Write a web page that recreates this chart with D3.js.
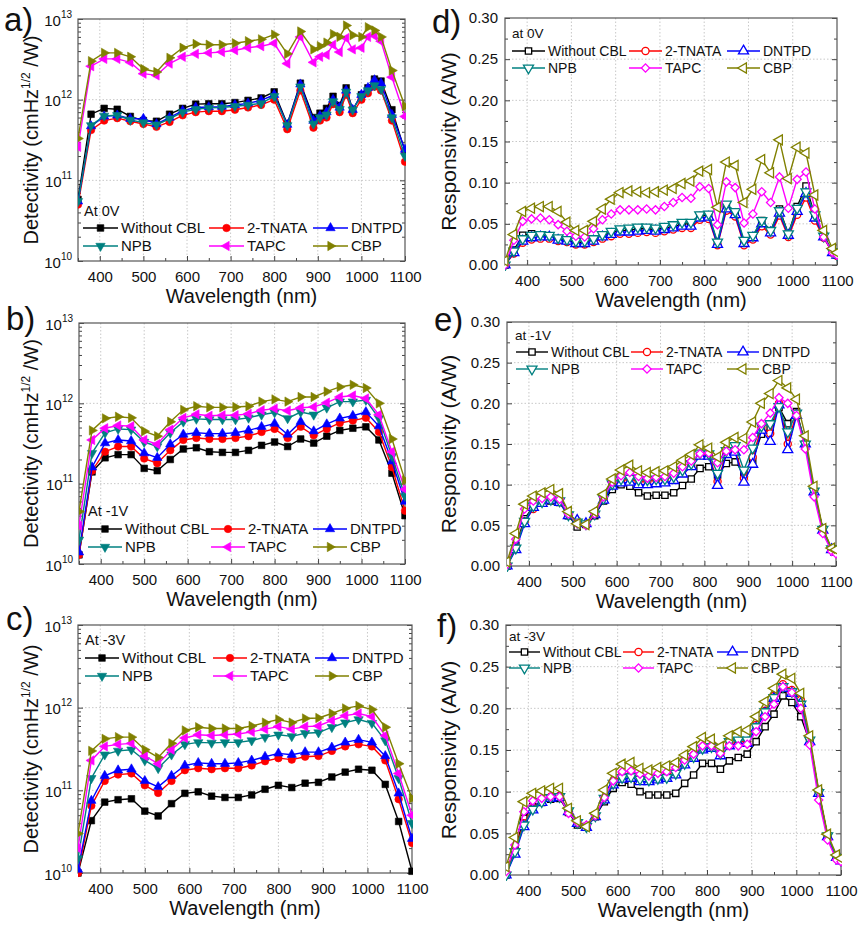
<!DOCTYPE html>
<html>
<head>
<meta charset="utf-8">
<script src="https://cdn.jsdelivr.net/npm/d3@7"></script>
<style>
body { margin: 0; background: #fff; }
svg text { font-family: Arial, "Liberation Sans", sans-serif; fill: #111; }
</style>
</head>
<body>
<svg id="chart" width="862" height="927"></svg>
<script>
let names = ["Without CBL", "2-TNATA", "DNTPD", "NPB", "TAPC", "CBP"]
let colors = ["#000000", "#ff0000", "#0000ff", "#008080", "#ff00ff", "#808000"]

// wavelengths (nm)
let wlA = [350,380,410,440,470, 500,530,560,590,620, 650,680,710,740,770, 800,830,860,890,905, 920,935,950,965,980, 1000,1015,1030,1045,1070, 1100]
let wlDet = [350,380,410,440,470, 500,530,560,590,620, 650,680,710,740,770, 800,830,860,890,920, 950,980,1010,1040,1070,1100]
let wlResp = [350,370,390,410,430,450,470,490,510,530, 550,570,590,610,630,650,670,690,710,730,
              750,770,790,810,830,850,870,890,910,930, 950,970,990,1010,1030,1050,1070,1090,1100]

let xTicks = [400,500,600,700,800,900,1000,1100]
let xMinor = [350,450,550,650,750,850,950,1050]
let detTicks = [1e10,1e11,1e12,1e13]
let respTicks = [0,0.05,0.10,0.15,0.20,0.25,0.30]

// detectivity, units of 1e11 Jones
// a) at 0V
let a_noCBL = [0.58,6.6,7.8,7.6,6.2, 5.5,5.4,6.6,7.8,8.8, 8.9,8.9,9.2,9.8,10.5, 12.5,5.0,16,6.0,6.8, 7.8,11,8.5,14,7.5, 11.5,14,18,17,7.5, 2.3]
let a_tnata = [0.50,4.2,5.5,5.9,5.4, 5.0,4.6,5.3,6.4,7.0, 7.2,7.2,7.5,8.0,8.6, 10,4.3,13,4.5,5.5, 6.0,8.8,7.0,11.5,6.8, 10,12,14.5,13,5.5, 1.7]
let a_dntpd = [0.55,4.7,6.2,6.4,5.8, 5.8,5.0,6.0,7.3,8.0, 8.1,8.2,8.6,9.0,9.8, 11.5,4.9,15.5,5.5,6.3, 7.0,10,8.0,13,7.5, 11.5,14,17.5,16,6.5, 2.4]
let a_npb = [0.55,4.8,6.3,6.4,5.6, 5.2,4.9,5.8,7.0,7.6, 7.9,8.0,8.3,8.6,9.0, 11,4.8,14.5,5.0,6.0, 6.5,9.5,7.6,12.5,7.5, 11,13,15,13.5,6.0, 2.0]
let a_tapc = [2.6,26,32,32,29, 21,20,28,34,37, 38,39,41,44,46, 50,28,60,29,34, 36,48,39,58,42, 44,60,62,53,19, 6.2]
let a_cbp = [3.3,30,38,38,34, 24,22,33,44,49, 48,48,50,53,56, 64,37,70,42,46, 51,65,60,83,63, 60,79,72,60,23, 8.3]

// b) at -1V
let b_noCBL = [0.13,1.4,2.1,2.3,2.3, 1.55,1.45,2.0,2.7,2.8, 2.5,2.45,2.45,2.6,3.0, 3.3,2.9,3.6,3.2,3.9, 4.6,4.9,5.1,3.5,1.35,0.40]
let b_tnata = [0.13,1.45,2.5,2.9,2.9, 2.05,1.8,2.6,3.5,3.7, 3.6,3.6,3.7,3.9,4.4, 4.8,3.7,5.1,4.0,4.8, 5.7,6.1,6.6,4.4,1.6,0.46]
let b_dntpd = [0.14,1.6,3.2,3.5,3.4, 2.4,2.1,3.1,4.1,4.3, 4.2,4.2,4.3,4.6,5.1, 5.6,4.1,5.9,4.5,5.5, 6.5,7.0,7.8,5.2,1.9,0.60]
let b_npb = [0.20,2.4,4.3,4.8,4.7, 3.3,2.9,4.3,5.9,6.4, 6.3,6.3,6.3,6.6,7.2, 7.7,6.5,7.8,7.2,8.8, 10.5,10.5,11,6.5,2.2,0.70]
let b_tapc = [0.30,3.5,4.9,5.3,5.2, 3.5,3.1,4.7,6.6,7.3, 7.0,7.1,7.1,7.4,8.2, 8.6,8.1,8.8,9.0,10.2, 12,12.5,11.5,7.2,2.5,0.85]
let b_cbp = [0.45,4.6,6.5,6.8,6.6, 4.5,3.9,5.9,8.3,9.2, 8.9,8.9,9.0,9.2,10.5, 11.2,10.5,12,12,14, 16,17,15.5,10,3.6,1.1]

// c) at -3V
let c_noCBL = [0.10,0.43,0.72,0.77,0.79, 0.56,0.49,0.69,0.92,0.96, 0.85,0.82,0.82,0.88,1.03, 1.15,1.08,1.22,1.25,1.45, 1.66,1.8,1.75,1.18,0.42,0.105]
let c_tnata = [0.10,0.65,1.3,1.55,1.6, 1.15,0.93,1.3,1.75,1.85, 1.8,1.85,1.85,2.0,2.25, 2.45,2.35,2.55,2.6,3.0, 3.4,3.6,3.4,2.3,0.78,0.23]
let c_dntpd = [0.11,0.75,1.5,1.75,1.8, 1.3,1.1,1.5,2.0,2.15, 2.1,2.1,2.15,2.3,2.55, 2.8,2.7,2.9,2.9,3.3, 3.8,4.1,3.8,2.6,0.92,0.26]
let c_npb = [0.15,1.4,2.7,3.0,3.1, 2.3,1.85,2.7,3.6,3.8, 3.75,3.8,3.8,4.0,4.4, 4.7,4.5,4.9,5.0,5.8, 6.6,7.2,6.5,4.0,1.4,0.40]
let c_tapc = [0.20,2.3,3.4,3.6,3.7, 2.6,2.1,3.1,4.3,4.7, 4.6,4.7,4.8,5.1,5.5, 5.9,5.5,5.9,6.0,7.0, 8.0,8.5,7.8,4.6,1.6,0.50]
let c_cbp = [0.30,3.0,4.2,4.4,4.4, 3.1,2.5,3.7,5.3,5.8, 5.6,5.6,5.6,6.0,6.6, 7.2,6.6,7.4,7.5,8.5, 9.8,10.5,9.5,5.8,2.1,0.80]

// responsivity (A/W)
// d) at 0V
let d_noCBL = [0.000,0.018,0.036,0.038,0.036,0.035,0.031,0.030,0.027,0.028, 0.031,0.036,0.039,0.042,0.042,0.044,0.044,0.043,0.045,0.046,
               0.050,0.050,0.060,0.060,0.027,0.070,0.063,0.028,0.035,0.054, 0.041,0.068,0.038,0.071,0.096,0.060,0.036,0.016,0.012]
let d_tnata = [0.000,0.014,0.027,0.031,0.032,0.032,0.029,0.028,0.025,0.025, 0.028,0.032,0.035,0.038,0.038,0.039,0.040,0.039,0.041,0.043,
               0.045,0.045,0.055,0.056,0.024,0.066,0.059,0.024,0.031,0.047, 0.037,0.060,0.034,0.061,0.082,0.054,0.033,0.015,0.011]
let d_dntpd = [0.000,0.015,0.029,0.033,0.034,0.034,0.030,0.029,0.026,0.026, 0.029,0.034,0.037,0.040,0.040,0.041,0.042,0.041,0.043,0.045,
               0.047,0.047,0.057,0.058,0.025,0.068,0.061,0.026,0.033,0.050, 0.039,0.063,0.036,0.065,0.087,0.057,0.034,0.015,0.012]
let d_npb = [0.000,0.017,0.032,0.036,0.037,0.036,0.033,0.031,0.029,0.029, 0.032,0.037,0.041,0.044,0.045,0.046,0.046,0.045,0.047,0.049,
             0.052,0.052,0.061,0.062,0.028,0.074,0.065,0.030,0.036,0.054, 0.042,0.066,0.038,0.069,0.089,0.061,0.035,0.016,0.013]
let d_tapc = [0.000,0.030,0.053,0.056,0.057,0.055,0.049,0.041,0.035,0.034, 0.044,0.055,0.062,0.067,0.067,0.067,0.068,0.067,0.071,0.076,
              0.082,0.081,0.095,0.093,0.049,0.101,0.094,0.051,0.062,0.089, 0.076,0.107,0.069,0.104,0.113,0.068,0.034,0.015,0.012]
let d_cbp = [0.005,0.037,0.065,0.069,0.071,0.071,0.065,0.052,0.042,0.042, 0.053,0.068,0.080,0.088,0.090,0.089,0.088,0.089,0.091,0.093,
             0.099,0.102,0.114,0.116,0.070,0.125,0.121,0.076,0.092,0.128, 0.112,0.152,0.105,0.143,0.136,0.085,0.042,0.020,0.015]

// e) at -1V
let e_noCBL = [0.000,0.025,0.058,0.073,0.078,0.080,0.078,0.062,0.048,0.051, 0.062,0.080,0.094,0.100,0.098,0.090,0.086,0.087,0.087,0.090,
               0.099,0.107,0.120,0.122,0.112,0.126,0.128,0.115,0.130,0.162, 0.170,0.195,0.175,0.190,0.150,0.091,0.045,0.021,0.018]
let e_tnata = [0.000,0.024,0.055,0.070,0.078,0.082,0.079,0.063,0.055,0.051, 0.064,0.083,0.100,0.105,0.107,0.104,0.104,0.106,0.107,0.110,
               0.117,0.124,0.137,0.136,0.104,0.138,0.142,0.108,0.134,0.170, 0.163,0.200,0.150,0.188,0.150,0.092,0.045,0.020,0.018]
let e_dntpd = [0.000,0.020,0.052,0.072,0.077,0.081,0.078,0.062,0.056,0.052, 0.063,0.081,0.098,0.102,0.103,0.100,0.100,0.101,0.102,0.105,
               0.113,0.122,0.135,0.135,0.099,0.137,0.140,0.103,0.125,0.167, 0.153,0.198,0.143,0.185,0.150,0.091,0.044,0.020,0.017]
let e_npb = [0.000,0.022,0.055,0.074,0.079,0.082,0.080,0.063,0.054,0.052, 0.064,0.083,0.101,0.107,0.108,0.106,0.106,0.107,0.107,0.110,
             0.118,0.126,0.139,0.138,0.114,0.142,0.148,0.118,0.145,0.172, 0.175,0.196,0.165,0.188,0.150,0.092,0.045,0.021,0.018]
let e_tapc = [0.002,0.033,0.070,0.080,0.083,0.085,0.082,0.064,0.052,0.050, 0.064,0.085,0.103,0.111,0.115,0.110,0.108,0.109,0.110,0.114,
              0.122,0.129,0.138,0.139,0.127,0.141,0.143,0.143,0.158,0.175, 0.188,0.207,0.200,0.185,0.144,0.085,0.040,0.018,0.015]
let e_cbp = [0.005,0.040,0.076,0.086,0.090,0.094,0.089,0.067,0.052,0.051, 0.067,0.088,0.107,0.118,0.124,0.117,0.115,0.116,0.117,0.122,
             0.130,0.137,0.149,0.145,0.134,0.152,0.158,0.157,0.177,0.200, 0.212,0.228,0.219,0.205,0.160,0.098,0.046,0.022,0.020]

// f) at -3V
let f_noCBL = [0.000,0.030,0.068,0.082,0.087,0.091,0.092,0.075,0.060,0.058, 0.070,0.088,0.104,0.111,0.109,0.100,0.096,0.096,0.096,0.098,
               0.110,0.120,0.134,0.134,0.127,0.137,0.141,0.145,0.160,0.178, 0.193,0.215,0.207,0.190,0.160,0.100,0.047,0.022,0.018]
let f_tnata = [0.000,0.030,0.062,0.080,0.090,0.094,0.095,0.077,0.063,0.058, 0.072,0.092,0.112,0.120,0.121,0.117,0.116,0.118,0.120,0.125,
               0.136,0.144,0.154,0.155,0.145,0.157,0.160,0.160,0.180,0.197, 0.215,0.229,0.222,0.210,0.163,0.100,0.046,0.020,0.017]
let f_dntpd = [0.000,0.025,0.058,0.078,0.087,0.092,0.093,0.076,0.062,0.057, 0.070,0.090,0.108,0.115,0.116,0.112,0.112,0.114,0.116,0.120,
               0.132,0.140,0.150,0.152,0.143,0.155,0.158,0.158,0.176,0.194, 0.212,0.224,0.218,0.206,0.160,0.098,0.046,0.021,0.017]
let f_npb = [0.000,0.028,0.060,0.079,0.088,0.093,0.094,0.077,0.063,0.058, 0.071,0.092,0.110,0.117,0.118,0.115,0.114,0.116,0.117,0.122,
             0.134,0.142,0.152,0.154,0.146,0.160,0.162,0.162,0.178,0.196, 0.213,0.226,0.220,0.205,0.162,0.099,0.047,0.021,0.018]
let f_tapc = [0.004,0.036,0.076,0.089,0.092,0.094,0.094,0.074,0.063,0.060, 0.071,0.093,0.113,0.124,0.125,0.121,0.119,0.122,0.124,0.129,
              0.138,0.145,0.155,0.155,0.146,0.155,0.155,0.157,0.172,0.190, 0.205,0.226,0.219,0.200,0.156,0.090,0.042,0.018,0.016]
let f_cbp = [0.010,0.045,0.088,0.098,0.101,0.104,0.104,0.080,0.065,0.058, 0.074,0.102,0.122,0.133,0.135,0.128,0.126,0.129,0.131,0.135,
             0.144,0.154,0.165,0.163,0.154,0.167,0.172,0.174,0.190,0.208, 0.224,0.241,0.236,0.218,0.167,0.102,0.049,0.024,0.020]

let svg = d3.select("#chart")

// marker shapes: detectivity filled, responsivity hollow
let detShapes = [[d3.symbolSquare, 0, 44], [d3.symbolCircle, 0, 44], [d3.symbolTriangle, 0, 38],
                 [d3.symbolTriangle, 180, 38], [d3.symbolTriangle, -90, 38], [d3.symbolTriangle, 90, 38]]
let respShapes = [[d3.symbolSquare, 0, 40], [d3.symbolCircle, 0, 40], [d3.symbolTriangle, 0, 44],
                  [d3.symbolTriangle, 180, 44], [d3.symbolSquare, 45, 34], [d3.symbolTriangle, -90, 44]]

let panels = [
  { letter: "a)", lx: 4, ly: 31, left: 78, right: 405, top: 19, bottom: 261, log: true, wl: wlA,
    series: [a_noCBL, a_tnata, a_dntpd, a_npb, a_tapc, a_cbp],
    state: "At 0V", sx: 84, sy: 211, rows: [228, 246], cols: [83, 209, 313], len: 35, fs: 15 },
  { letter: "b)", lx: 6, ly: 330, left: 79, right: 405, top: 323, bottom: 564, log: true, wl: wlDet,
    series: [b_noCBL, b_tnata, b_dntpd, b_npb, b_tapc, b_cbp],
    state: "At -1V", sx: 88, sy: 511, rows: [529, 547], cols: [88, 211, 313], len: 34, fs: 15 },
  { letter: "c)", lx: 6, ly: 630, left: 78, right: 412, top: 625, bottom: 873, log: true, wl: wlDet,
    series: [c_noCBL, c_tnata, c_dntpd, c_npb, c_tapc, c_cbp],
    state: "At -3V", sx: 85, sy: 640, rows: [658, 676], cols: [85, 213, 315], len: 34, fs: 15 },
  { letter: "d)", lx: 432, ly: 33, left: 505, right: 837, top: 18, bottom: 265, log: false, wl: wlResp,
    series: [d_noCBL, d_tnata, d_dntpd, d_npb, d_tapc, d_cbp],
    state: "at 0V", sx: 512, sy: 33, rows: [51, 68], cols: [512, 629, 727], len: 33, fs: 14 },
  { letter: "e)", lx: 434, ly: 331, left: 507, right: 836, top: 322, bottom: 566, log: false, wl: wlResp,
    series: [e_noCBL, e_tnata, e_dntpd, e_npb, e_tapc, e_cbp],
    state: "at -1V", sx: 515, sy: 335, rows: [352, 369], cols: [516, 631, 727], len: 32, fs: 14 },
  { letter: "f)", lx: 437, ly: 637, left: 506, right: 841, top: 625, bottom: 875, log: false, wl: wlResp,
    series: [f_noCBL, f_tnata, f_dntpd, f_npb, f_tapc, f_cbp],
    state: "at -3V", sx: 509, sy: 636, rows: [652, 668], cols: [509, 623, 717], len: 31, fs: 14 }
]

let markerPath = (shape) => d3.symbol().type(shape[0]).size(shape[2])()

let drawPanel = (p, idx) => {
  let g = svg.append("g")
  let xScale = d3.scaleLinear().domain([350, 1100]).range([p.left, p.right])
  let yScale = p.log
    ? d3.scaleLog().domain([1e10, 1e13]).range([p.bottom, p.top]).clamp(true)
    : d3.scaleLinear().domain([0, 0.3]).range([p.bottom, p.top])
  let yVal = (v) => p.log ? yScale(v * 1e11) : yScale(v)

  // dotted grid
  g.selectAll(".gx").data(xTicks.slice(0, -1)).enter().append("line")
    .attr("x1", d => xScale(d)).attr("x2", d => xScale(d))
    .attr("y1", p.top).attr("y2", p.bottom)
    .attr("stroke", "#c8c8c8").attr("stroke-dasharray", "1.5,2")
  let yGrid = p.log ? [1e11, 1e12] : [0.05, 0.10, 0.15, 0.20, 0.25]
  g.selectAll(".gy").data(yGrid).enter().append("line")
    .attr("x1", p.left).attr("x2", p.right)
    .attr("y1", d => yScale(d)).attr("y2", d => yScale(d))
    .attr("stroke", "#c8c8c8").attr("stroke-dasharray", "1.5,2")

  // x axis: major ticks with labels, minor ticks
  let xAx = g.append("g").attr("transform", "translate(0," + p.bottom + ")")
    .call(d3.axisBottom(xScale).tickValues(xTicks).tickSize(-5).tickPadding(10).tickFormat(d3.format("d")))
  xAx.select(".domain").remove()
  xAx.selectAll("text").attr("font-size", 15).attr("fill", "#111")
  let xMin = g.append("g").attr("transform", "translate(0," + p.bottom + ")")
    .call(d3.axisBottom(xScale).tickValues(xMinor).tickSize(-3).tickFormat(""))
  xMin.select(".domain").remove()

  // y axis
  let yAx = g.append("g").attr("transform", "translate(" + p.left + ",0)")
  let minors
  let majors
  if (p.log) {
    majors = detTicks
    yAx.call(d3.axisLeft(yScale).tickValues(detTicks).tickSize(-5).tickFormat(""))
    yAx.selectAll(".tick").each(function (d) {
      let t = d3.select(this).append("text")
        .attr("x", -6).attr("y", 6).attr("text-anchor", "end").attr("font-size", 15)
      t.append("tspan").text("10")
      t.append("tspan").attr("dy", -8).attr("font-size", 10).text(Math.round(Math.log10(d)))
    })
    minors = []
    for (let e = 10; e < 13; e++) for (let m = 2; m < 10; m++) minors.push(m * Math.pow(10, e))
  } else {
    majors = respTicks
    yAx.call(d3.axisLeft(yScale).tickValues(respTicks).tickSize(-5).tickPadding(7).tickFormat(d3.format(".2f")))
    yAx.selectAll("text").attr("font-size", 15).attr("fill", "#111")
    minors = [0.025, 0.075, 0.125, 0.175, 0.225, 0.275]
  }
  yAx.select(".domain").remove()
  let yMin = g.append("g").attr("transform", "translate(" + p.left + ",0)")
    .call(d3.axisLeft(yScale).tickValues(minors).tickSize(-3).tickFormat(""))
  yMin.select(".domain").remove()
  let yMinR = g.append("g").attr("transform", "translate(" + p.right + ",0)")
    .call(d3.axisRight(yScale).tickValues(minors).tickSize(-3).tickFormat(""))
  yMinR.select(".domain").remove()
  let yR = g.append("g").attr("transform", "translate(" + p.right + ",0)")
    .call(d3.axisRight(yScale).tickValues(majors).tickSize(-5).tickFormat(""))
  yR.select(".domain").remove()
  g.selectAll(".tick line").attr("stroke", "#444")

  // frame
  g.append("rect")
    .attr("x", p.left).attr("y", p.top)
    .attr("width", p.right - p.left).attr("height", p.bottom - p.top)
    .attr("fill", "none").attr("stroke", "#555").attr("stroke-width", 1.2)

  // clip
  let clipId = "clip" + idx
  svg.append("clipPath").attr("id", clipId).append("rect")
    .attr("x", p.left).attr("y", p.top - 6)
    .attr("width", p.right - p.left + 1).attr("height", p.bottom - p.top + 12)

  let shapes = p.log ? detShapes : respShapes
  let line = d3.line().x(d => xScale(d[0])).y(d => yVal(d[1]))
  let plot = g.append("g").attr("clip-path", "url(#" + clipId + ")")

  p.series.forEach((vals, i) => {
    let pts = p.wl.map((w, k) => [w, vals[k]])
    plot.append("path").datum(pts)
      .attr("d", line).attr("fill", "none")
      .attr("stroke", colors[i]).attr("stroke-width", 1.4)
    plot.selectAll(".m" + i).data(pts).enter().append("path")
      .attr("d", markerPath(shapes[i]))
      .attr("transform", d => "translate(" + xScale(d[0]) + "," + yVal(d[1]) + ") rotate(" + shapes[i][1] + ")")
      .attr("fill", p.log ? colors[i] : "#fff")
      .attr("stroke", colors[i]).attr("stroke-width", p.log ? 0.6 : 1.3)
  })

  // legend
  g.append("text").attr("x", p.sx).attr("y", p.sy).attr("dy", "0.35em")
    .attr("font-size", p.fs - 0.5).text(p.state)
  names.forEach((n, i) => {
    let cx = p.cols[i % 3]
    let cy = p.rows[Math.floor(i / 3)]
    g.append("line").attr("x1", cx).attr("x2", cx + p.len).attr("y1", cy).attr("y2", cy)
      .attr("stroke", colors[i]).attr("stroke-width", 1.4)
    g.append("path").attr("d", markerPath(shapes[i]))
      .attr("transform", "translate(" + (cx + p.len / 2) + "," + cy + ") rotate(" + shapes[i][1] + ")")
      .attr("fill", p.log ? colors[i] : "#fff")
      .attr("stroke", colors[i]).attr("stroke-width", p.log ? 0.6 : 1.3)
    g.append("text").attr("x", cx + p.len + 3).attr("y", cy).attr("dy", "0.35em")
      .attr("font-size", p.fs).text(n)
  })

  // titles
  g.append("text").attr("x", (p.left + p.right) / 2).attr("y", p.bottom + 35)
    .attr("dy", "0.35em").attr("text-anchor", "middle").attr("font-size", 20)
    .text("Wavelength (nm)")
  let ymid = (p.top + p.bottom) / 2
  if (p.log) {
    let t = g.append("text").attr("transform", "translate(31," + ymid + ") rotate(-90)")
      .attr("text-anchor", "middle").attr("dy", "0.35em").attr("font-size", 20)
    t.append("tspan").text("Detectivity (cmHz")
    t.append("tspan").attr("dy", -8).attr("font-size", 12).text("1/2")
    t.append("tspan").attr("dy", 8).text(" /W)")
  } else {
    g.append("text").attr("transform", "translate(449," + ymid + ") rotate(-90)")
      .attr("text-anchor", "middle").attr("dy", "0.35em").attr("font-size", 21)
      .text("Responsivity (A/W)")
  }

  g.append("text").attr("x", p.lx).attr("y", p.ly).attr("font-size", 33).text(p.letter)
}

panels.forEach((p, i) => drawPanel(p, i))
</script>
</body>
</html>
